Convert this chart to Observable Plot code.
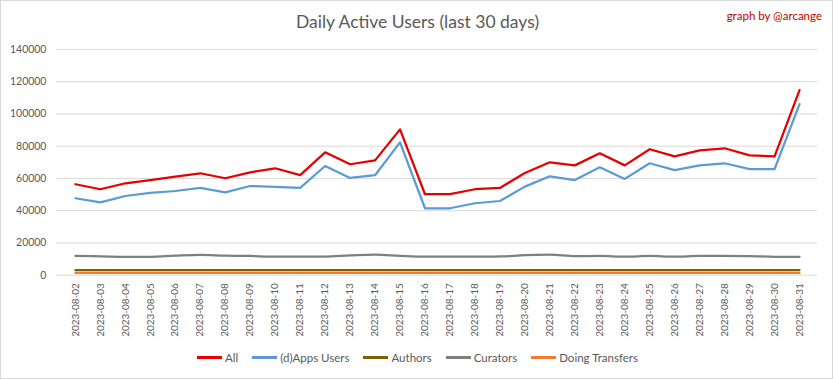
<!DOCTYPE html>
<html>
<head>
<meta charset="utf-8">
<script src="https://cdn.jsdelivr.net/npm/d3@7"></script>
<script src="https://cdn.jsdelivr.net/npm/@observablehq/plot@0.6"></script>
<style>
  html, body { margin: 0; padding: 0; background: #fff; }
  #wrap { position: relative; width: 831px; height: 377px; border: 1px solid #d9d9d9; background: #fff; overflow: hidden; font-family: Lato, "Open Sans", sans-serif; }
  #title { position: absolute; left: 0; width: 833px; top: 10px; text-align: center; font-size: 17.5px; color: #595959; }
  #credit { position: absolute; right: 10px; top: 8px; font-size: 11.5px; color: #c00000; }
  #chart { position: absolute; left: -1px; top: -1px; }
  #legend { position: absolute; left: 0; width: 833px; top: 350px; display: flex; justify-content: center; gap: 14px; font-size: 11.5px; color: #595959; }
  .item { display: flex; align-items: center; gap: 3px; }
  .sw { width: 25px; height: 2.5px; }
</style>
</head>
<body>
<div id="wrap">
  <div id="title">Daily Active Users (last 30 days)</div>
  <div id="credit">graph by @arcange</div>
  <div id="chart"></div>
  <div id="legend"></div>
</div>
<script>
const dates = ["2023-08-02","2023-08-03","2023-08-04","2023-08-05","2023-08-06","2023-08-07","2023-08-08","2023-08-09","2023-08-10","2023-08-11","2023-08-12","2023-08-13","2023-08-14","2023-08-15","2023-08-16","2023-08-17","2023-08-18","2023-08-19","2023-08-20","2023-08-21","2023-08-22","2023-08-23","2023-08-24","2023-08-25","2023-08-26","2023-08-27","2023-08-28","2023-08-29","2023-08-30","2023-08-31"];
const allUsers = [56400,53300,57000,59000,61100,63200,60100,63800,66300,62000,76200,68800,71200,90400,50200,50200,53300,54100,63400,70000,68100,75600,68100,78100,73700,77400,78700,74300,73700,114800];
const appsUsers = [47700,45200,49100,51000,52200,54100,51400,55300,54700,54100,67700,60300,62000,82400,41500,41500,44600,46000,54900,61300,59000,66900,59700,69400,65200,68100,69400,65800,65800,106100];
const authors = [3200,3200,3200,3200,3200,3200,3200,3200,3200,3200,3200,3200,3200,3200,3200,3200,3200,3200,3200,3200,3200,3200,3200,3200,3200,3200,3200,3200,3200,3200];
const curators = [11900,11700,11400,11400,12100,12600,12100,11900,11500,11500,11500,12200,12700,12000,11500,11500,11500,11600,12400,12700,11800,11900,11500,11900,11500,11900,11900,11800,11400,11400];
const transfers = [1400,1400,1400,1400,1400,1400,1400,1400,1400,1400,1400,1400,1400,1400,1400,1400,1400,1400,1400,1400,1400,1400,1400,1400,1400,1400,1400,1400,1400,1400];
const seriesNames = ["All","(d)Apps Users","Authors","Curators","Doing Transfers"];
const seriesColors = ["#e60000","#5b9bd5","#7f6000","#7f7f7f","#ed7d31"];
const yTicks = [0,20000,40000,60000,80000,100000,120000,140000];

const seriesValues = [allUsers, appsUsers, authors, curators, transfers];
const data = [];
seriesNames.forEach((s, i) => dates.forEach((d, j) => data.push({series: s, date: d, value: seriesValues[i][j]})));

const lines = seriesNames.map((s, i) => Plot.line(data.filter(r => r.series === s), {
  x: "date", y: "value", stroke: "series", strokeWidth: 2.25,
  curve: s === "Curators" ? "monotone-x" : "linear"
}));

const chart = Plot.plot({
  width: 833, height: 345,
  marginTop: 49, marginBottom: 70, marginLeft: 56, marginRight: 15,
  style: {fontFamily: "Lato, 'Open Sans', sans-serif", fontSize: "10.5px", color: "#595959", background: "transparent"},
  x: {type: "point", domain: dates, padding: 0.5},
  y: {domain: [0, 140000]},
  color: {domain: seriesNames, range: seriesColors},
  marks: [
    Plot.gridY(yTicks, {stroke: "#d9d9d9", strokeOpacity: 1}),
    Plot.axisY(yTicks, {tickSize: 0, tickPadding: 10, tickFormat: d3.format("d"), label: null, fill: "#595959"}),
    Plot.axisX({tickSize: 0, tickRotate: -90, tickPadding: 8, label: null, fill: "#595959", fontSize: 10}),
    ...lines
  ]
});
document.getElementById("chart").appendChild(chart);

const legend = document.getElementById("legend");
seriesNames.forEach((s, i) => {
  const it = document.createElement("div");
  it.className = "item";
  const sw = document.createElement("div");
  sw.className = "sw";
  sw.style.background = seriesColors[i];
  const t = document.createElement("span");
  t.textContent = s;
  it.appendChild(sw); it.appendChild(t);
  legend.appendChild(it);
});
</script>
</body>
</html>
